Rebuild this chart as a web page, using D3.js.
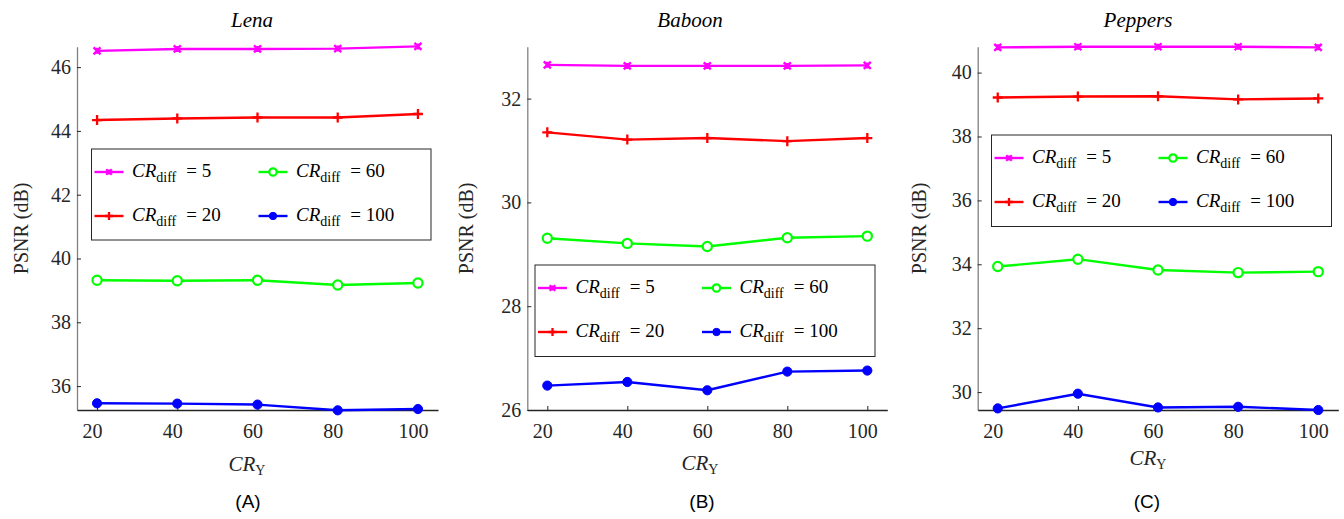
<!DOCTYPE html>
<html>
<head>
<meta charset="utf-8">
<script src="https://cdn.jsdelivr.net/npm/d3@7"></script>
<style>
  body { margin: 0; background: #fff; }
</style>
</head>
<body>
<svg id="chart" width="1344" height="519"></svg>
<script>
'use strict'
// x values and legend labels
const crY = [20, 40, 60, 80, 100];
const crDiff = [5, 20, 60, 100];
const xTicks = [20, 40, 60, 80, 100];
const xRange = [15, 105];

// PSNR values, one array per CRdiff
const lena5 = [46.51, 46.57, 46.57, 46.58, 46.65];
const lena20 = [44.34, 44.39, 44.42, 44.42, 44.53];
const lena60 = [39.32, 39.30, 39.32, 39.17, 39.23];
const lena100 = [35.46, 35.45, 35.42, 35.24, 35.28];

const baboon5 = [32.65, 32.63, 32.63, 32.63, 32.64];
const baboon20 = [31.35, 31.21, 31.24, 31.18, 31.24];
const baboon60 = [29.31, 29.21, 29.15, 29.32, 29.35];
const baboon100 = [26.47, 26.54, 26.38, 26.74, 26.76];

const peppers5 = [40.79, 40.81, 40.81, 40.81, 40.79];
const peppers20 = [39.22, 39.25, 39.26, 39.16, 39.19];
const peppers60 = [33.93, 34.16, 33.82, 33.74, 33.77];
const peppers100 = [29.49, 29.95, 29.52, 29.54, 29.44];

// y axis limits and ticks
const lenaYRange = [35.25, 46.64];
const baboonYRange = [26, 33];
const peppersYRange = [29.44, 40.81];
const lenaYTicks = [36, 38, 40, 42, 44, 46];
const baboonYTicks = [26, 28, 30, 32];
const peppersYTicks = [30, 32, 34, 36, 38, 40];

const colors = ["#ff00ff", "#ff0000", "#00ff00", "#0000ff"];
const markers = ["x", "plus", "circle", "dot"];

const serif = '"Liberation Serif", "Times New Roman", serif';
const sans = '"Liberation Sans", Arial, sans-serif';

const svg = d3.select("#chart");
const plotTop = 46.7, plotBottom = 410;

let panels = [
    { title: "Lena", tag: "(A)", series: [lena5, lena20, lena60, lena100], yRange: lenaYRange, yTicks: lenaYTicks,
      left: 77, right: 438, titleX: 252, labelX: 247, tagX: 248, yLabelX: 28, xLabelY: 471,
      legend: { x: 91.5, y: 149, w: 339.5, h: 91 } },
    { title: "Baboon", tag: "(B)", series: [baboon5, baboon20, baboon60, baboon100], yRange: baboonYRange, yTicks: baboonYTicks,
      left: 527.3, right: 887.3, titleX: 690, labelX: 700, tagX: 702, yLabelX: 473, xLabelY: 470,
      legend: { x: 535, y: 265, w: 340, h: 91.5 } },
    { title: "Peppers", tag: "(C)", series: [peppers5, peppers20, peppers60, peppers100], yRange: peppersYRange, yTicks: peppersYTicks,
      left: 977.7, right: 1338.3, titleX: 1138, labelX: 1148, tagX: 1147, yLabelX: 926, xLabelY: 465,
      legend: { x: 991.5, y: 135, w: 340, h: 91.5 } }
];

// draw one marker of a given type centred at (cx, cy)
function drawMarker(g, type, cx, cy, color, s) {
    if (type === "x") {
        g.append("path")
            .attr("d", `M${cx - 3.5 * s},${cy - 3.5 * s}L${cx + 3.5 * s},${cy + 3.5 * s}M${cx - 3.5 * s},${cy + 3.5 * s}L${cx + 3.5 * s},${cy - 3.5 * s}M${cx},${cy - 3 * s}L${cx},${cy + 3 * s}`)
            .attr("stroke", color).attr("stroke-width", 2.3).attr("fill", "none");
    } else if (type === "plus") {
        g.append("path")
            .attr("d", `M${cx - 5 * s},${cy}L${cx + 5 * s},${cy}M${cx},${cy - 5 * s}L${cx},${cy + 5 * s}`)
            .attr("stroke", color).attr("stroke-width", 2.3).attr("fill", "none");
    } else if (type === "circle") {
        g.append("circle").attr("cx", cx).attr("cy", cy).attr("r", 4.6 * s)
            .attr("fill", "#fff").attr("stroke", color).attr("stroke-width", 2.2);
    } else {
        g.append("circle").attr("cx", cx).attr("cy", cy).attr("r", 4.6 * s)
            .attr("fill", color).attr("stroke", color).attr("stroke-width", 1);
    }
}

panels.forEach(p => {
    let x = d3.scaleLinear().domain(xRange).range([p.left, p.right]);
    let y = d3.scaleLinear().domain(p.yRange).range([plotBottom, plotTop]);
    let g = svg.append("g");

    // y axis, inward ticks
    let yAxis = g.append("g")
        .attr("transform", `translate(${p.left},0)`)
        .call(d3.axisLeft(y).tickValues(p.yTicks).tickFormat(d3.format("d"))
            .tickSizeInner(-4).tickSizeOuter(0).tickPadding(6));
    yAxis.select(".domain").attr("stroke", "#808080").attr("stroke-width", 1.3);
    yAxis.selectAll(".tick line").attr("stroke", "#262626");
    yAxis.selectAll(".tick text")
        .style("font-family", serif).style("font-size", "20px").attr("fill", "#262626");

    // x axis
    let xAxis = g.append("g")
        .attr("transform", `translate(0,${plotBottom})`)
        .call(d3.axisBottom(x).tickValues(xTicks).tickFormat(d3.format("d"))
            .tickSizeInner(-4).tickSizeOuter(0).tickPadding(14));
    xAxis.select(".domain").attr("stroke", "#262626").attr("stroke-width", 1.3);
    xAxis.selectAll(".tick line").attr("stroke", "#262626");
    xAxis.selectAll(".tick text")
        .style("font-family", serif).style("font-size", "20px")
        .attr("fill", "#262626").attr("dx", -5);

    // lines and markers
    let line = d3.line().x((d, i) => x(crY[i])).y(d => y(d));
    p.series.forEach((s, k) => {
        g.append("path").datum(s)
            .attr("d", line)
            .attr("fill", "none")
            .attr("stroke", colors[k])
            .attr("stroke-width", 2.4);
        s.forEach((v, i) => drawMarker(g, markers[k], x(crY[i]), y(v), colors[k], 1));
    });

    // title
    g.append("text").attr("x", p.titleX).attr("y", 26.5)
        .attr("text-anchor", "middle").attr("fill", "#000")
        .style("font-family", serif).style("font-size", "21px").style("font-style", "italic")
        .text(p.title);

    // y label
    g.append("text")
        .attr("transform", `translate(${p.yLabelX},${(plotTop + plotBottom) / 2}) rotate(-90)`)
        .attr("text-anchor", "middle").attr("fill", "#262626")
        .style("font-family", serif).style("font-size", "20px")
        .text("PSNR (dB)");

    // x label CR_Y
    let xl = g.append("text").attr("x", p.labelX).attr("y", p.xLabelY)
        .attr("text-anchor", "middle").attr("fill", "#262626")
        .style("font-family", serif).style("font-size", "21px");
    xl.append("tspan").style("font-style", "italic").text("CR");
    xl.append("tspan").style("font-size", "14px").attr("dy", 4).text("Y");

    // sub-figure tag
    g.append("text").attr("x", p.tagX).attr("y", 508)
        .attr("text-anchor", "middle").attr("fill", "#000")
        .style("font-family", sans).style("font-size", "19px")
        .text(p.tag);

    // legend
    let L = p.legend;
    let lg = g.append("g").attr("transform", `translate(${L.x},${L.y})`);
    lg.append("rect").attr("width", L.w).attr("height", L.h)
        .attr("fill", "#fff").attr("stroke", "#262626").attr("stroke-width", 1);
    crDiff.forEach((c, k) => {
        let col = k < 2 ? 0 : 1;
        let row = k % 2;
        let lx = 3 + col * 164;
        let ly = row === 0 ? 23 : 67;
        lg.append("line").attr("x1", lx).attr("x2", lx + 29).attr("y1", ly).attr("y2", ly)
            .attr("stroke", colors[k]).attr("stroke-width", 2.4);
        drawMarker(lg, markers[k], lx + 14.5, ly, colors[k], 0.8);
        let t = lg.append("text").attr("x", lx + 37.5).attr("y", ly + 5).attr("fill", "#000")
            .style("font-family", serif).style("font-size", "19px");
        t.append("tspan").style("font-style", "italic").text("CR");
        t.append("tspan").style("font-size", "14px").attr("dy", 5).text("diff");
        t.append("tspan").attr("dy", -5).attr("dx", 10).text("= " + c);
    });
});
</script>
</body>
</html>
